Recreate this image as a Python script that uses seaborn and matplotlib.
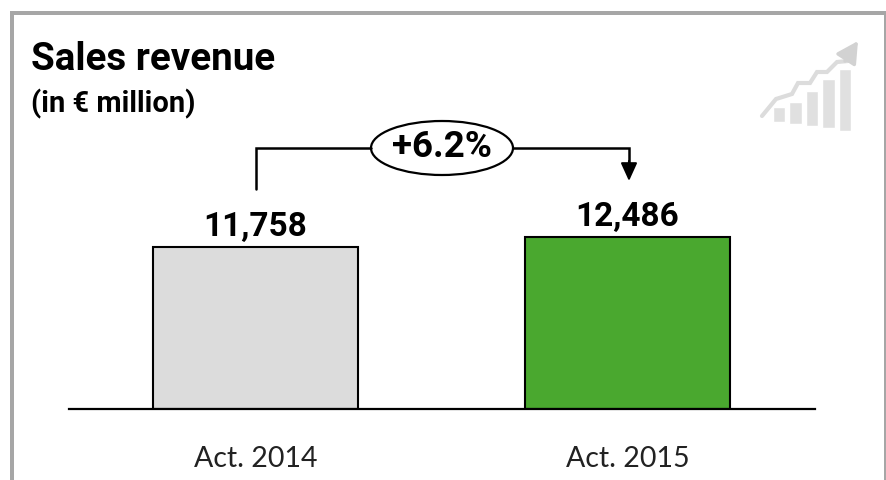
import seaborn as sns
import matplotlib.pyplot as plt
from matplotlib.patches import Ellipse, Rectangle

# chart data
periods = ["Act. 2014", "Act. 2015"]
revenue = [11758, 12486]
bar_colors = ["#dcdcdc", "#4aa82f"]
change_label = "+6.2%"

# little coin stack icon, just decoration
icon_heights = [15, 22, 35, 49, 62]
icon_bottoms = [9, 7, 5, 3, 0]

W, H = 886, 481
sns.set_style("white")
plt.rcParams["font.family"] = ["Roboto", "DejaVu Sans"]
plt.rcParams["text.color"] = "black"

fig = plt.figure(figsize=(W / 100, H / 100), dpi=100)

# main bars, baseline at y=409 and 162px for the first bar
ax = fig.add_axes([69 / W, (H - 409.5) / H, (815 - 69) / W, 230 / H])
sns.barplot(x=periods, y=revenue, hue=periods, palette=bar_colors, legend=False,
            width=0.553, saturation=1, edgecolor="black", linewidth=1.5, ax=ax)
ax.set_xlim(-0.501, 1.504)
ax.set_ylim(0, 231 * 11758 / 162)
sns.despine(ax=ax, left=True)
ax.spines["bottom"].set_linewidth(1.6)
ax.spines["bottom"].set_color("black")
ax.set_yticks([])
ax.tick_params(axis="x", length=0, pad=26, labelsize=20.5, labelcolor="#222222")
for t in ax.get_xticklabels():
    t.set_family(["Lato", "DejaVu Sans"])
for c in ax.containers:
    ax.bar_label(c, fmt="{:,.0f}", padding=4, fontsize=24, fontweight="bold", color="black")

# pixel overlay for frame, title and connector
ov = fig.add_axes([0, 0, 1, 1], facecolor="none")
ov.set_xlim(0, W)
ov.set_ylim(H, 0)
ov.axis("off")

frame = "#a6a6a6"
ov.add_patch(Rectangle((10, 12), 4, H - 12, color=frame, lw=0))
ov.add_patch(Rectangle((10, 12), W - 10, 3.5, color=frame, lw=0))
ov.add_patch(Rectangle((884, 12), 2, H - 12, color=frame, lw=0))

ov.text(31, 60, "Sales revenue", fontsize=27.7, fontweight="bold", va="center", ha="left")
ov.text(31, 104, "(in € million)", fontsize=21, fontweight="bold", va="center", ha="left")

ov.plot([256, 256, 371], [190, 149, 149], color="black", lw=1.8, solid_joinstyle="miter")
ov.plot([513, 629, 629], [149, 149, 165], color="black", lw=1.8, solid_joinstyle="miter")
ov.annotate("", xy=(629, 182), xytext=(629, 162),
            arrowprops=dict(arrowstyle="-|>,head_width=0.25,head_length=0.55", color="black",
                            lw=1.5, shrinkA=0, shrinkB=0, mutation_scale=20))
ov.add_patch(Ellipse((442, 149), 142, 54, facecolor="white", edgecolor="black", lw=1.6))
ov.text(442, 147, change_label, fontsize=26.5, fontweight="bold", va="center", ha="center")

# icon
icon = fig.add_axes([771 / W, (H - 132) / H, 82 / W, 62 / H], facecolor="none")
sns.barplot(x=list(range(len(icon_heights))), y=icon_heights, bottom=icon_bottoms, color="#e0e0e0",
            width=0.75, saturation=1, ax=icon)
icon.set_ylim(0, 62)
icon.axis("off")
ov.plot([762, 776, 792, 798, 810, 817, 827, 837, 848],
        [117, 100, 95, 84, 84, 73, 73, 63, 62], color="#dcdcdc", lw=3, solid_joinstyle="miter")
ov.annotate("", xy=(858, 42), xytext=(845, 62),
            arrowprops=dict(arrowstyle="-|>,head_width=0.35,head_length=0.65", color="#d2d2d2",
                            lw=2.5, shrinkA=0, shrinkB=0, mutation_scale=20))

fig.savefig("out.png", dpi=100)
